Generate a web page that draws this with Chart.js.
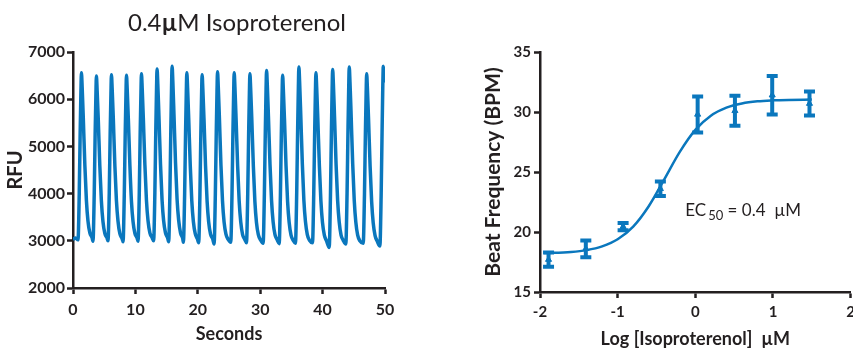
<!DOCTYPE html>
<html>
<head>
<meta charset="utf-8">
<script src="https://cdn.jsdelivr.net/npm/chart.js@4.4.1/dist/chart.umd.min.js"></script>
<style>
  body { margin: 0; width: 853px; height: 351px; overflow: hidden; position: relative; background: #fff; font-family: Lato, sans-serif; }
  #tracePanel { position: absolute; left: 0; top: 0; width: 440px; height: 351px; }
  #dosePanel { position: absolute; left: 440px; top: 0; width: 420px; height: 351px; }
  #traceTitle { position: absolute; left: 0; top: 8px; width: 474px; text-align: center; font-size: 24px; line-height: 28px; color: #231f20; }
</style>
</head>
<body>
<div id="tracePanel"><canvas id="traceChart"></canvas></div>
<div id="dosePanel"><canvas id="doseChart"></canvas></div>
<div id="traceTitle">0.4<b>µ</b>M Isoproterenol</div>
<script>
const BLUE = '#0a77bd';
const AXIS = '#231f20';

// left panel: calcium trace (seconds / RFU), one row per beat
const traceSec = [
  0.00, 0.40,
  0.80, 1.00, 1.15, 1.27, 1.35, 1.47, 1.65, 1.90, 2.15, 2.40, 2.70, 3.05,
  3.20, 3.40, 3.55, 3.67, 3.75, 3.87, 4.05, 4.30, 4.55, 4.80, 5.10, 5.45,
  5.61, 5.81, 5.96, 6.08, 6.16, 6.28, 6.46, 6.71, 6.96, 7.21, 7.51, 7.86,
  8.02, 8.22, 8.37, 8.49, 8.57, 8.69, 8.87, 9.12, 9.37, 9.62, 9.92, 10.27,
  10.42, 10.62, 10.77, 10.89, 10.97, 11.09, 11.27, 11.52, 11.77, 12.02, 12.32, 12.67,
  12.92, 13.12, 13.27, 13.39, 13.47, 13.59, 13.77, 14.02, 14.27, 14.52, 14.82, 15.17,
  15.33, 15.53, 15.68, 15.80, 15.88, 16.00, 16.18, 16.43, 16.68, 16.93, 17.23, 17.58,
  17.69, 17.89, 18.04, 18.16, 18.24, 18.36, 18.54, 18.79, 19.04, 19.29, 19.59, 19.94,
  20.14, 20.34, 20.49, 20.61, 20.69, 20.81, 20.99, 21.24, 21.49, 21.74, 22.04, 22.39,
  22.61, 22.81, 22.96, 23.08, 23.16, 23.28, 23.46, 23.71, 23.96, 24.21, 24.51, 24.86,
  25.28, 25.48, 25.63, 25.75, 25.83, 25.95, 26.13, 26.38, 26.63, 26.88, 27.18, 27.53,
  27.80, 28.00, 28.15, 28.27, 28.35, 28.47, 28.65, 28.90, 29.15, 29.40, 29.70, 30.05,
  30.47, 30.67, 30.82, 30.94, 31.02, 31.14, 31.32, 31.57, 31.82, 32.07, 32.37, 32.72,
  33.04, 33.24, 33.39, 33.51, 33.59, 33.71, 33.89, 34.14, 34.39, 34.64, 34.94, 35.29,
  35.65, 35.85, 36.00, 36.12, 36.20, 36.32, 36.50, 36.75, 37.00, 37.25, 37.55, 37.90,
  38.38, 38.58, 38.73, 38.85, 38.93, 39.05, 39.23, 39.48, 39.73, 39.98, 40.28, 40.63,
  41.06, 41.26, 41.41, 41.53, 41.61, 41.73, 41.91, 42.16, 42.41, 42.66, 42.96, 43.31,
  43.72, 43.92, 44.07, 44.19, 44.27, 44.39, 44.57, 44.82, 45.07, 45.32, 45.62, 45.97,
  46.51, 46.71, 46.86, 46.98, 47.06, 47.18, 47.36, 47.61, 47.86, 48.11, 48.41, 48.76,
  49.18, 49.38, 49.53, 49.65, 49.73, 49.85, 50.00
];
const traceRFU = [
  3030, 3060,
  3020, 4000, 5300, 6160, 6560, 6250, 5600, 4600, 3850, 3420, 3170, 3070,
  2990, 3980, 5280, 6090, 6490, 6180, 5570, 4580, 3840, 3410, 3160, 3060,
  3000, 4010, 5300, 6120, 6520, 6210, 5590, 4590, 3850, 3420, 3150, 3050,
  2980, 3990, 5290, 6110, 6510, 6200, 5580, 4590, 3830, 3410, 3160, 3060,
  2990, 4000, 5310, 6140, 6540, 6230, 5600, 4610, 3860, 3430, 3170, 3070,
  3000, 4020, 5350, 6240, 6640, 6320, 5650, 4630, 3870, 3430, 3170, 3060,
  2980, 4030, 5380, 6300, 6700, 6380, 5680, 4650, 3880, 3440, 3170, 3050,
  2970, 3990, 5300, 6160, 6560, 6250, 5600, 4600, 3840, 3410, 3150, 3040,
  2960, 3980, 5290, 6120, 6520, 6210, 5590, 4590, 3840, 3400, 3140, 3040,
  2930, 3980, 5300, 6180, 6580, 6270, 5610, 4600, 3840, 3400, 3140, 3030,
  2970, 3990, 5300, 6160, 6560, 6250, 5600, 4600, 3840, 3400, 3130, 3030,
  2960, 3980, 5290, 6140, 6540, 6230, 5590, 4590, 3830, 3390, 3130, 3020,
  2950, 4000, 5320, 6210, 6610, 6300, 5630, 4620, 3850, 3400, 3130, 3020,
  2940, 3970, 5280, 6110, 6510, 6200, 5580, 4590, 3830, 3390, 3120, 3010,
  2950, 4010, 5350, 6280, 6680, 6360, 5670, 4640, 3860, 3410, 3130, 3010,
  2960, 3990, 5300, 6160, 6560, 6250, 5600, 4600, 3840, 3390, 3120, 3000,
  2860, 3960, 5300, 6230, 6630, 6320, 5640, 4620, 3850, 3400, 3120, 3010,
  2930, 4000, 5350, 6280, 6680, 6360, 5670, 4640, 3860, 3400, 3120, 3000,
  2950, 3980, 5290, 6140, 6540, 6230, 5590, 4590, 3830, 3380, 3110, 2990,
  2890, 3950, 5300, 6300, 6700, 6500, 6350
];

// right panel: beat rate vs log concentration (mean +/- SEM) and the fitted curve
const logConc = [-1.89, -1.41, -0.93, -0.45, 0.03, 0.51, 0.99, 1.47];
const beatMean = [17.7, 18.6, 20.45, 23.6, 29.8, 30.1, 31.4, 30.7];
const beatSem = [0.6, 0.7, 0.3, 0.6, 1.5, 1.25, 1.6, 1.0];
const fitLogX = [-1.95, -1.6, -1.4, -1.2, -1.0, -0.8, -0.6, -0.4, -0.2, 0, 0.2, 0.4, 0.6, 0.8, 1.0, 1.2, 1.5];
const fitBPM = [18.24, 18.34, 18.49, 18.80, 19.39, 20.45, 22.15, 24.39, 26.68, 28.51, 29.69, 30.36, 30.71, 30.89, 30.97, 31.01, 31.04];

function axis(tickSize, tickLen, pad) {
  return {
    border: { display: true, color: AXIS, width: 2.5 },
    grid: { display: true, drawOnChartArea: false, drawTicks: true, tickLength: tickLen, tickWidth: 2.5, tickColor: AXIS },
    ticks: { color: AXIS, padding: pad, autoSkip: false, font: { family: 'Lato', size: tickSize, weight: 'bold' }, callback: v => String(v) }
  };
}

function axisTitle(text, size, padding) {
  return { display: true, text: text, color: AXIS, padding: padding, font: { family: 'Lato', size: size, weight: 'bold' } };
}

const errorBars = {
  id: 'errorBars',
  afterDatasetsDraw(chart) {
    const { ctx, scales: { x, y } } = chart;
    ctx.save();
    ctx.strokeStyle = BLUE;
    ctx.lineWidth = 4;
    logConc.forEach((c, i) => {
      const px = x.getPixelForValue(c);
      const top = y.getPixelForValue(beatMean[i] + beatSem[i]);
      const bot = y.getPixelForValue(beatMean[i] - beatSem[i]);
      ctx.beginPath();
      ctx.moveTo(px, top); ctx.lineTo(px, bot);
      ctx.moveTo(px - 5.5, top); ctx.lineTo(px + 5.5, top);
      ctx.moveTo(px - 5.5, bot); ctx.lineTo(px + 5.5, bot);
      ctx.stroke();
    });
    ctx.restore();
  }
};

const ec50Label = {
  id: 'ec50Label',
  afterDraw(chart) {
    const { ctx, scales: { x, y } } = chart;
    let px = x.getPixelForValue(-0.13);
    const py = y.getPixelForValue(21.3);
    ctx.save();
    ctx.fillStyle = AXIS;
    ctx.textBaseline = 'alphabetic';
    ctx.font = '17px Lato';
    ctx.fillText('EC', px, py);
    px += ctx.measureText('EC').width + 2;
    ctx.font = '13px Lato';
    ctx.fillText('50', px, py + 4);
    px += ctx.measureText('50').width;
    ctx.font = '17px Lato';
    ctx.fillText(' = 0.4  µM', px, py);
    ctx.restore();
  }
};

const common = {
  responsive: true,
  maintainAspectRatio: false,
  animation: false,
  plugins: { legend: { display: false }, tooltip: { enabled: false } }
};

new Chart(document.getElementById('traceChart'), {
  type: 'line',
  data: {
    datasets: [{
      data: traceSec.map((t, i) => ({ x: t, y: traceRFU[i] })),
      borderColor: BLUE,
      borderWidth: 3.5,
      pointRadius: 0,
      cubicInterpolationMode: 'monotone',
      fill: false
    }]
  },
  options: {
    ...common,
    layout: { padding: { top: 52, right: 55, left: 0, bottom: 0 } },
    scales: {
      x: {
        type: 'linear', min: 0, max: 50,
        ...axis(16, 6, 6),
        ticks: { ...axis(16, 6, 6).ticks, stepSize: 10 },
        title: axisTitle('Seconds', 18, { top: 0, bottom: 6 }),
        afterFit: s => { s.height = 63; }
      },
      y: {
        min: 2000, max: 7000,
        ...axis(16, 6, 2),
        ticks: { ...axis(16, 6, 2).ticks, stepSize: 1000 },
        title: axisTitle('RFU', 20, { top: 4, bottom: 0 }),
        afterFit: s => { s.width = 73; }
      }
    }
  }
});

new Chart(document.getElementById('doseChart'), {
  type: 'line',
  data: {
    datasets: [{
      data: fitLogX.map((v, i) => ({ x: v, y: fitBPM[i] })),
      borderColor: BLUE,
      borderWidth: 2.5,
      pointRadius: 0,
      cubicInterpolationMode: 'monotone',
      fill: false
    }, {
      type: 'scatter',
      data: logConc.map((v, i) => ({ x: v, y: beatMean[i] })),
      pointStyle: 'triangle',
      pointRadius: 3.5,
      backgroundColor: BLUE,
      borderColor: BLUE
    }]
  },
  options: {
    ...common,
    layout: { padding: { top: 52, right: 4, left: 0, bottom: 0 } },
    scales: {
      x: {
        type: 'linear', min: -2, max: 2,
        ...axis(15, 6, 5),
        ticks: { ...axis(15, 6, 5).ticks, stepSize: 1 },
        title: axisTitle('Log [Isoproterenol]  µM', 18, { top: 0, bottom: 1 }),
        afterFit: s => { s.height = 59; }
      },
      y: {
        min: 15, max: 35,
        ...axis(15, 6, 3),
        ticks: { ...axis(15, 6, 3).ticks, stepSize: 5 },
        title: axisTitle('Beat Frequency (BPM)', 21, { top: 41, bottom: 0 }),
        afterFit: s => { s.width = 100; }
      }
    }
  },
  plugins: [errorBars, ec50Label]
});
</script>
</body>
</html>
